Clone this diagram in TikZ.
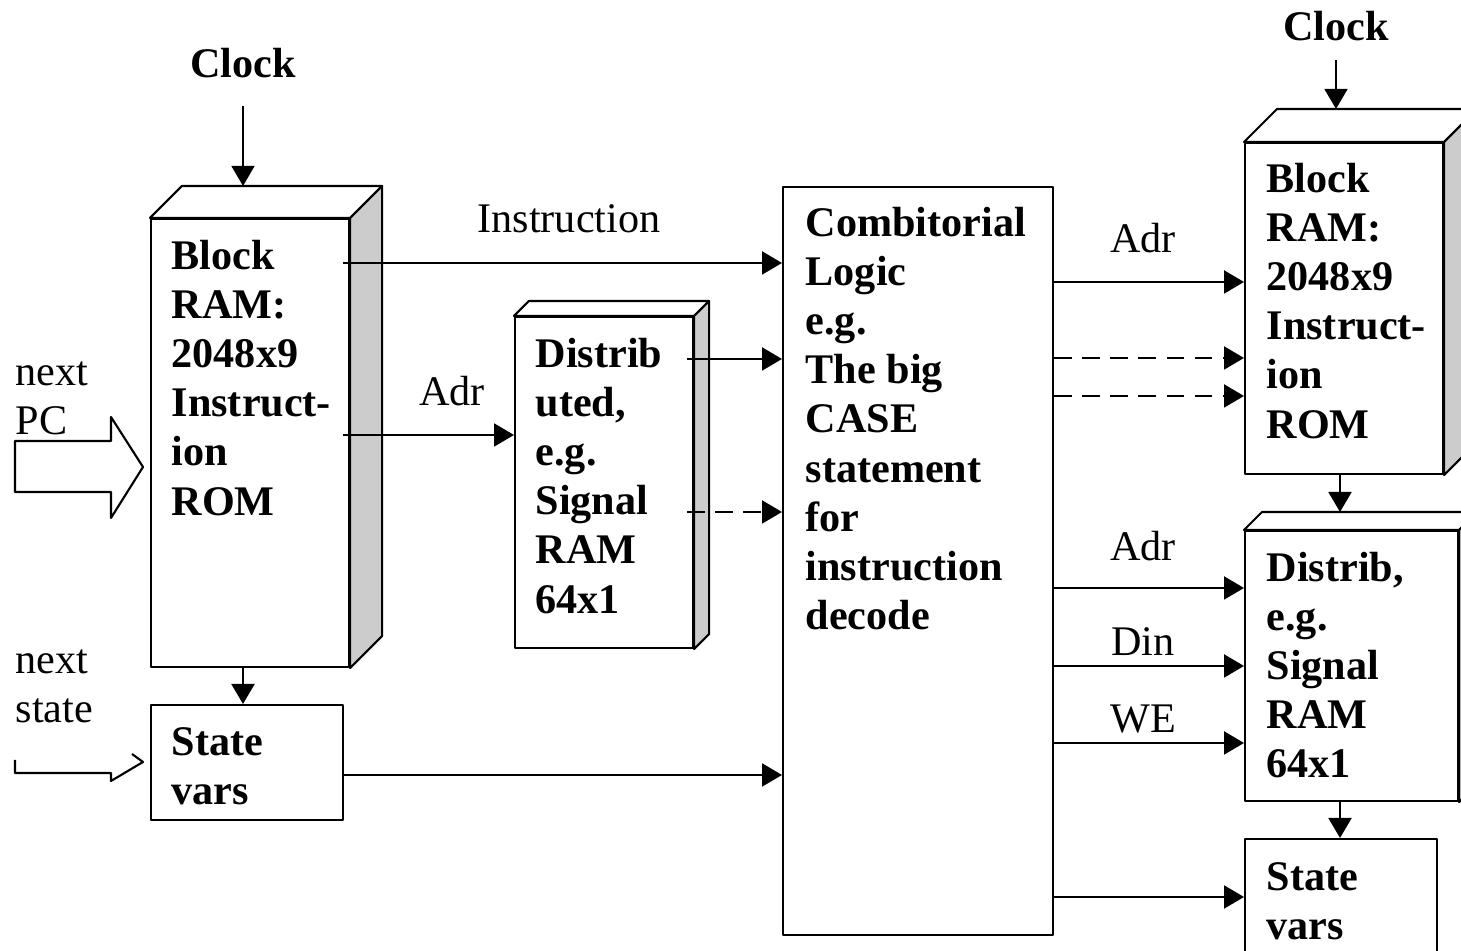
\documentclass[tikz,border=0pt]{standalone}
\usepackage{fontspec}
\setmainfont{Liberation Serif}
\usetikzlibrary{calc,arrows.meta}
\tikzset{>={Triangle[length=2mm,width=2.3mm]}}
\definecolor{sidegray}{gray}{0.8}
\tikzset{
  unit/.style={draw, line width=0.6pt, fill=white, inner sep=0, anchor=north west},
  unittxt/.style={inner sep=0, anchor=north west, align=left, font=\fontsize{12}{14}\selectfont\bfseries},
  sig/.style={inner sep=0, anchor=base, font=\fontsize{12}{14}\selectfont},
  wire/.style={line width=0.6pt},
  dashwire/.style={line width=0.6pt, dash pattern=on 5pt off 3pt},
}
% top and side faces of a block
\newcommand{\unitfaces}[2]{%
  \draw[wire, fill=white] (#1.north west) -- ++(#2,#2) -- ($(#1.north east)+(#2,#2)$) -- (#1.north east) -- cycle;
  \draw[wire, fill=sidegray] (#1.north east) -- ++(#2,#2) -- ($(#1.south east)+(#2,#2)$) -- (#1.south east) -- cycle;
}

\begin{document}
\begin{tikzpicture}[line join = round]
    \useasboundingbox (0,0) rectangle (14.61,9.51);
    \clip (0,0) rectangle (14.61,9.51);

    % left hand side
    \node[unit, minimum width=1.98cm, minimum height=4.48cm] (romL) at (1.50,7.33) {};
    \unitfaces{romL}{0.32}
    \node[unittxt] (romLtxt) at ($(romL.north west)+(0.21,-0.16)$) {\strut Block\\RAM:\\2048x9\\Instruct-\\ion\\ROM};
    \node[unit, minimum width=1.92cm, minimum height=1.15cm] (stateL) at (1.50,2.47) {};
    \node[unittxt] (stateLtxt) at ($(stateL.north west)+(0.21,-0.16)$) {\strut State\\vars};
    \node[unit, minimum width=1.78cm, minimum height=3.31cm] (dstL) at (5.14,6.35) {};
    \unitfaces{dstL}{0.15}
    \node[unittxt] (dstLtxt) at ($(dstL.north west)+(0.21,-0.16)$) {\strut Distrib\\uted,\\e.g.\\Signal\\RAM\\64x1};
    \node[unit, minimum width=2.70cm, minimum height=7.48cm] (combo) at (7.82,7.65) {};
    \node[unittxt] (combotxt) at ($(combo.north west)+(0.23,-0.15)$) {\strut Combitorial\\Logic\\e.g.\\The big\\CASE\\statement\\for\\instruction\\decode};

    % right hand side
    \node[unit, minimum width=1.98cm, minimum height=3.31cm] (romR) at (12.44,8.09) {};
    \unitfaces{romR}{0.33}
    \node[unittxt] (romRtxt) at ($(romR.north west)+(0.22,-0.15)$) {\strut Block\\RAM:\\2048x9\\Instruct-\\ion\\ROM};
    \node[unit, minimum width=2.13cm, minimum height=2.70cm] (dstR) at (12.44,4.21) {};
    \unitfaces{dstR}{0.18}
    \node[unittxt] (dstRtxt) at ($(dstR.north west)+(0.22,-0.16)$) {\strut Distrib,\\e.g.\\Signal\\RAM\\64x1};
    \node[unit, minimum width=1.92cm, minimum height=1.40cm] (stateR) at (12.44,1.13) {};
    \node[unittxt] (stateRtxt) at ($(stateR.north west)+(0.22,-0.17)$) {\strut State\\vars};

    % clocks
    \node[unittxt, anchor=base] (clkL) at (2.43,8.73) {Clock};
    \node[unittxt, anchor=base] (clkR) at (13.36,9.10) {Clock};
    \coordinate (romLtop) at ($(romL.north)+(0,0.32)$);
    \coordinate (romRtop) at ($(romR.north)+(0,0.33)$);
    \coordinate (dstRtop) at ($(dstR.north)+(0,0.18)$);
    \draw[->, line width=0.4pt] ([yshift=-0.28cm]clkL.base) -- (clkL.base |- romLtop);
    \draw[->, line width=0.4pt] ([yshift=-0.19cm]clkR.base) -- (clkR.base |- romRtop);
    \draw[->, wire] (clkL.base |- romL.south) -- (clkL.base |- stateL.north);
    \draw[->, wire] (13.40,0 |- romR.south) -- (13.40,0 |- dstRtop);
    \draw[->, wire] (13.40,0 |- dstR.south) -- (13.40,0 |- stateR.north);

    % inputs
    \node[sig, anchor=north west, align=left] (pcin) at (0.15,6.01) {\strut next\\PC};
    \node[sig, anchor=north west, align=left] (stin) at (0.15,3.13) {\strut next\\state};
    \draw[wire] (0.15,5.10) -- (1.11,5.10) -- (1.11,5.34) -- (1.43,4.84) -- (1.11,4.33) -- (1.11,4.59) -- (0.15,4.59) -- cycle;
    \draw[wire] (0.15,1.91) -- (0.15,1.78) -- (1.11,1.78) -- (1.11,1.70) -- (1.43,1.89) -- (1.32,1.97);

    % signals on the left
    \coordinate (insout) at (3.43,6.88);
    \coordinate (adrout) at (3.43,5.16);
    \coordinate (dstout) at (6.87,5.92);
    \coordinate (dstdash) at (6.87,4.39);
    \draw[->, wire] (insout) -- (insout -| combo.west);
    \draw[->, wire] (adrout) -- (adrout -| dstL.west);
    \draw[->, wire] (dstout) -- (dstout -| combo.west);
    \draw[->, dashwire] (dstdash) -- (dstdash -| combo.west);
    \draw[->, wire] (stateL.east |- 0,1.76) -- (combo.west |- 0,1.76);
    \node[sig] (inslbl) at (5.69,7.18) {Instruction};
    \node[sig] (adrlbl) at (4.52,5.45) {Adr};

    % signals on the right
    \foreach \y/\tgt/\s in {6.69/romR/wire, 5.93/romR/dashwire, 5.55/romR/dashwire,
                            3.63/dstR/wire, 2.85/dstR/wire, 2.08/dstR/wire, 0.54/stateR/wire}
        \draw[->, \s] (combo.east |- 0,\y) -- (\tgt.west |- 0,\y);
    \node[sig] (adrR) at (11.43,6.98) {Adr};
    \node[sig] (adrD) at (11.43,3.90) {Adr};
    \node[sig] (dinD) at (11.43,2.95) {Din};
    \node[sig] (weD) at (11.43,2.18) {WE};
\end{tikzpicture}
\end{document}
